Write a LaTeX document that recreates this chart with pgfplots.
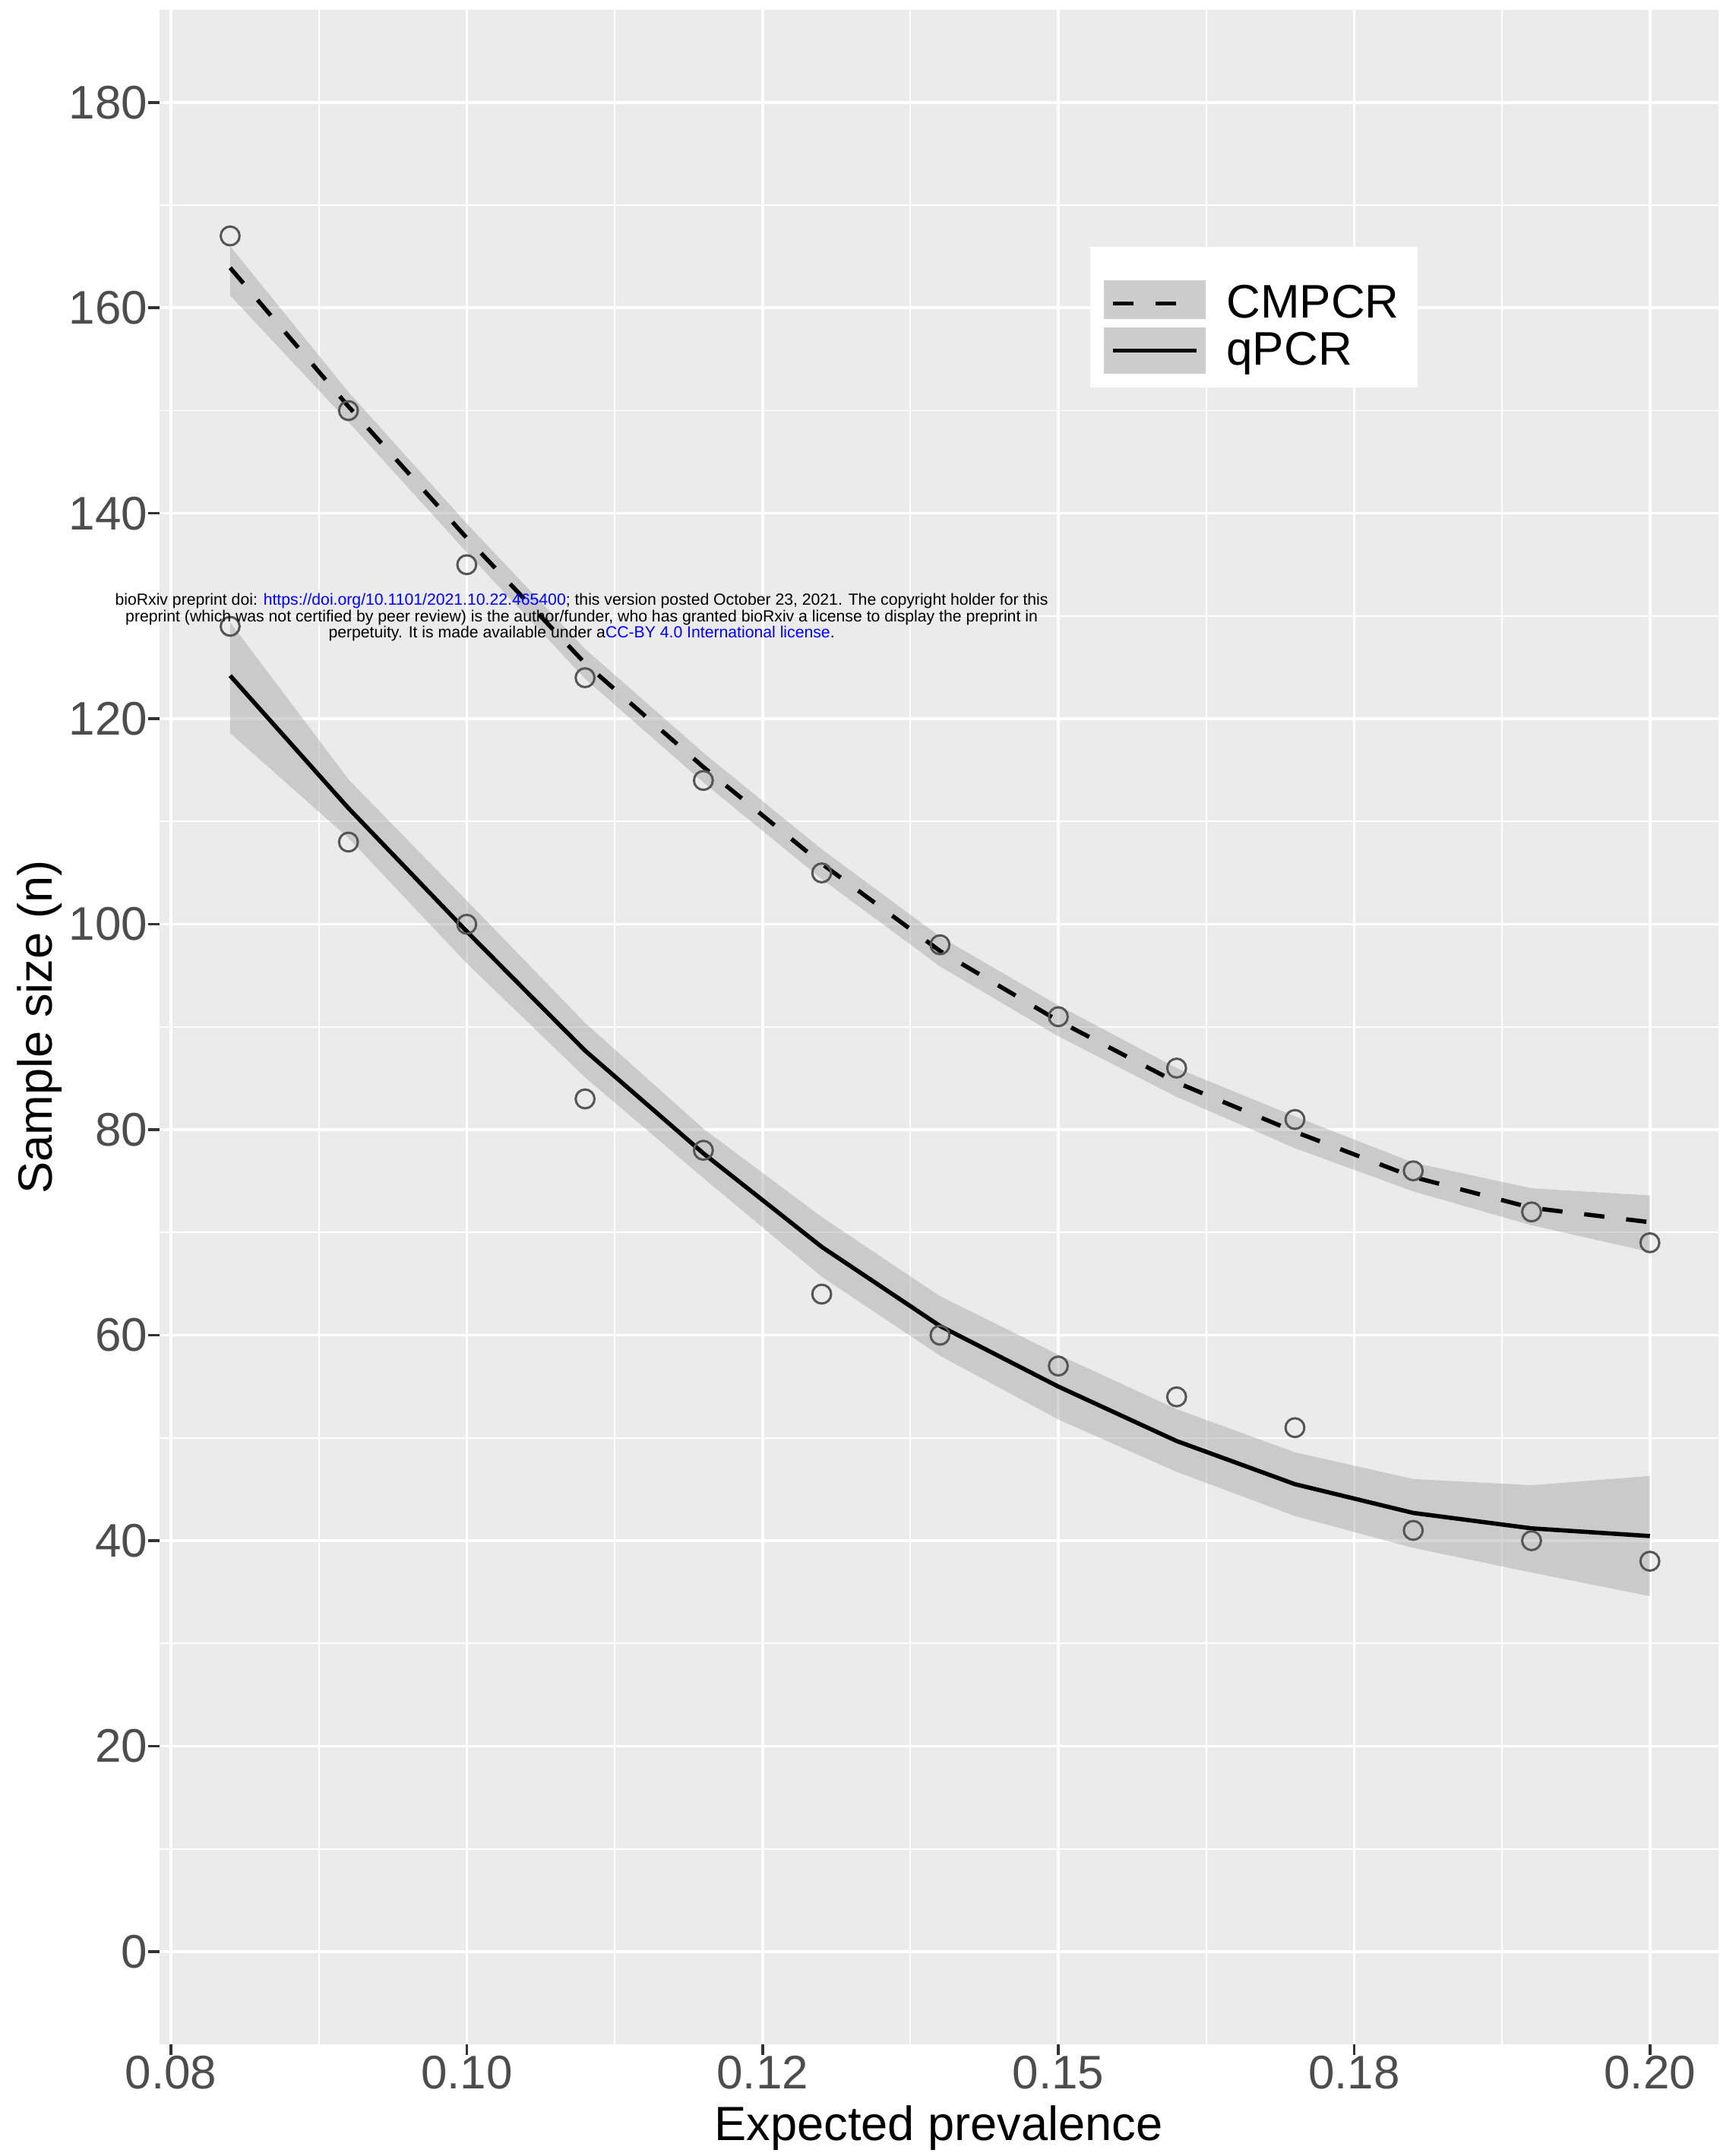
\documentclass[border=0pt]{standalone}
\usepackage{pgfplots}
\pgfplotsset{compat=1.18}
\usepackage{pgfplotstable}
\usepgfplotslibrary{fillbetween}
\usepackage{fontspec}
\setmainfont{Liberation Sans}

\definecolor{panelbg}{RGB}{235,235,235}
\definecolor{tickgray}{RGB}{51,51,51}
\definecolor{labgray}{RGB}{77,77,77}
\definecolor{bandgray}{RGB}{153,153,153}
\definecolor{keygray}{RGB}{205,205,205}
\definecolor{ptgray}{RGB}{85,85,85}
\definecolor{linkblue}{RGB}{0,0,255}

% x = expected prevalence, n = observed sample size, fit = smoothed, lo/hi = band
\pgfplotstableread{
x    n   fit    lo     hi
0.08 167 163.9  161.2  166.0
0.09 150 150.4  148.9  151.8
0.10 135 137.6  136.2  139.0
0.11 124 125.4  123.9  126.8
0.12 114 115.3  113.8  116.7
0.13 105 105.9  104.4  107.3
0.14 98  97.4   95.9   98.8
0.15 91  90.6   89.1   92.1
0.16 86  84.6   83.2   86.0
0.17 81  79.8   78.2   81.3
0.18 76  75.4   74.0   76.8
0.19 72  72.4   70.7   74.3
0.20 69  71.0   68.1   73.6
}\cmpcr

\pgfplotstableread{
x    n   fit    lo     hi
0.08 129 124.2  118.6  129.4
0.09 108 111.3  108.4  114.1
0.10 100 99.3   96.2   102.3
0.11 83  87.7   85.1   90.4
0.12 78  77.7   75.3   80.1
0.13 64  68.6   65.7   71.5
0.14 60  60.9   58.0   63.8
0.15 57  55.0   51.8   58.1
0.16 54  49.7   46.7   52.8
0.17 51  45.5   42.4   48.6
0.18 41  42.7   39.3   46.0
0.19 40  41.2   36.9   45.4
0.20 38  40.45  34.6   46.3
}\qpcr

\begin{document}
\begin{tikzpicture}
\path (0,0) rectangle (565.5pt,709.5pt);
\begin{axis}[
  at={(52.375pt,36.83pt)}, anchor=south west,
  scale only axis, width=513.125pt, height=669.4pt,
  xmin=0.074, xmax=0.2058, ymin=-9, ymax=189,
  axis background/.style={fill=panelbg},
  axis line style={draw=none},
  tick pos=left, tick align=outside,
  major tick length=3.6pt,
  minor tick length=0pt,
  major tick style={tickgray, line width=0.9pt},
  xtick={0.075,0.1,0.125,0.15,0.175,0.2},
  xticklabels={0.08,0.10,0.12,0.15,0.18,0.20},
  minor xtick={0.0875,0.1125,0.1375,0.1625,0.1875},
  ytick={0,20,40,60,80,100,120,140,160,180},
  yticklabels={0,20,40,60,80,100,120,140,160,180},
  minor ytick={10,30,50,70,90,110,130,150,170},
  grid=both,
  major grid style={white, line width=0.9pt},
  minor grid style={white, line width=0.45pt},
  tick label style={font=\fontsize{15.5}{15.5}\selectfont, text=labgray, inner sep=0pt},
  yticklabel style={anchor=east},
  xticklabel style={anchor=north},
  xlabel={Expected prevalence},
  ylabel={Sample size (n)},
  label style={font=\fontsize{15.8}{15.8}\selectfont, inner sep=0pt},
  xlabel style={at={(axis description cs:0.5,-0.04755)}, anchor=base},
  ylabel style={at={(axis description cs:-0.0685,0.5)}, anchor=base},
  legend style={at={(0.5966,0.8837)}, anchor=north west, draw=none, fill=white,
    inner xsep=4.4pt, inner ysep=4.5pt, row sep=1.6pt, column sep=6.8pt,
    font=\fontsize{15.5}{15.5}\selectfont, nodes={inner sep=0pt}},
  legend cell align=left,
  legend image code/.code={\fill[keygray, draw=none, solid] (0pt,-7.6pt) rectangle (33.5pt,7.6pt); \draw[#1] (3pt,0pt) -- (30.5pt,0pt);},
]
% CMPCR band
\addplot[name path=cu, draw=none, forget plot] table[x=x, y=hi] {\cmpcr};
\addplot[name path=cl, draw=none, forget plot] table[x=x, y=lo] {\cmpcr};
\addplot[fill=bandgray, fill opacity=0.4, draw=none, forget plot] fill between[of=cu and cl];
% qPCR band
\addplot[name path=qu, draw=none, forget plot] table[x=x, y=hi] {\qpcr};
\addplot[name path=ql, draw=none, forget plot] table[x=x, y=lo] {\qpcr};
\addplot[fill=bandgray, fill opacity=0.4, draw=none, forget plot] fill between[of=qu and ql];
% observed points
\addplot[only marks, mark=o, mark size=3.1pt, mark options={ptgray, line width=0.75pt}, forget plot] table[x=x, y=n] {\cmpcr};
\addplot[only marks, mark=o, mark size=3.1pt, mark options={ptgray, line width=0.75pt}, forget plot] table[x=x, y=n] {\qpcr};
% fitted lines
\addplot[black, line width=1.4pt, dash pattern=on 6.7pt off 7.2pt, forget plot] table[x=x, y=fit] {\cmpcr};
\addplot[black, line width=1.4pt, forget plot] table[x=x, y=fit] {\qpcr};
% legend
\addlegendimage{legend image code/.code={\path (0pt,0pt);}}
\addlegendentry{\raisebox{0pt}[3.4pt][0pt]{}}
\addlegendimage{legend image code/.code={\fill[keygray, draw=none, solid] (0pt,-5pt) rectangle (33.5pt,7.6pt); \draw[black, line width=1.4pt, dash pattern=on 6.7pt off 7.2pt] (3pt,0pt) -- (30.5pt,0pt);}}
\addlegendentry{\raisebox{0pt}[11.1pt][0pt]{CMPCR\hspace{1.6pt}}}
\addlegendimage{black, line width=1.4pt}
\addlegendentry{\raisebox{0pt}[11.1pt][0pt]{qPCR}}
\end{axis}
\begin{scope}[font=\fontsize{5.3}{5.35}\selectfont]
\node[anchor=base, inner sep=0pt] at (191.4pt,510.25pt) {bioRxiv preprint doi: \textcolor{linkblue}{https://doi.org/10.1101/2021.10.22.465400}; this version posted October 23, 2021. The copyright holder for this};
\node[anchor=base, inner sep=0pt] at (191.4pt,504.9pt) {preprint (which was not certified by peer review) is the author/funder, who has granted bioRxiv a license to display the preprint in};
\node[anchor=base, inner sep=0pt] at (191.4pt,499.5pt) {perpetuity. It is made available under a\textcolor{linkblue}{CC-BY 4.0 International license}.};
\end{scope}
\end{tikzpicture}
\end{document}
